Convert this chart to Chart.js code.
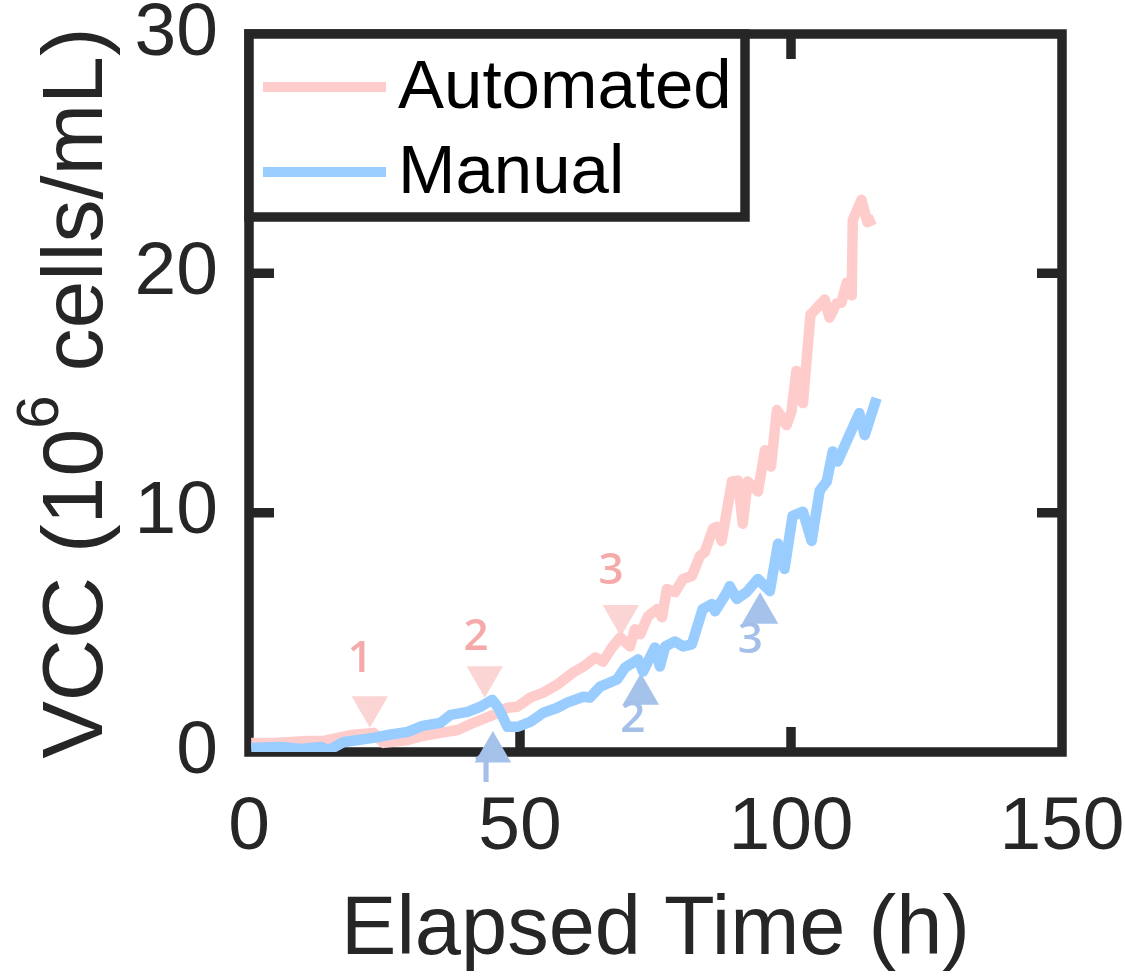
<!DOCTYPE html>
<html>
<head>
<meta charset="utf-8">
<script src="https://cdn.jsdelivr.net/npm/chart.js@4.4.0/dist/chart.umd.min.js"></script>
<style>
  html, body { margin: 0; padding: 0; background: #fff; }
  #wrap { width: 1125px; height: 976px; }
</style>
</head>
<body>
<div id="wrap"><canvas id="vccChart" width="1125" height="976"></canvas></div>
<script>
// VCC over elapsed time
const automatedTime = [0.4, 4.6, 10.9, 13.8, 18.8, 23.0, 24.8, 29.3, 32.0, 35.3, 38.5, 41.4, 45.1, 47.7, 49.5, 51.9, 54.3, 56.9, 59.8, 61.7, 63.9, 65.3, 67.0, 68.5, 70.3, 71.2, 72.2, 73.6, 75.3, 76.2, 77.1, 78.6, 80.1, 81.7, 83.2, 84.1, 85.6, 86.3, 87.2, 89.1, 90.2, 91.1, 92.0, 93.9, 95.2, 96.3, 97.4, 99.2, 100.1, 101.0, 102.2, 103.6, 104.0, 106.2, 107.1, 108.4, 109.3, 110.3, 111.2, 111.4, 113.0, 114.1, 115.4];
const automatedVcc = [0.38, 0.38, 0.46, 0.46, 0.71, 0.80, 0.38, 0.50, 0.67, 0.80, 0.92, 1.22, 1.55, 1.85, 1.89, 2.27, 2.48, 2.82, 3.32, 3.57, 3.95, 3.78, 4.37, 4.79, 4.41, 5.13, 4.92, 5.67, 5.97, 5.63, 6.81, 6.68, 7.23, 7.35, 8.19, 8.36, 9.33, 9.41, 8.82, 11.30, 11.34, 9.54, 11.30, 10.88, 12.61, 11.93, 14.29, 13.66, 14.24, 15.92, 14.58, 18.28, 18.36, 18.91, 18.15, 18.74, 18.78, 19.62, 19.08, 22.23, 23.07, 22.14, 22.27];

const manualTime = [0.4, 5.9, 9.6, 13.3, 14.7, 17.5, 23.0, 25.6, 29.3, 32.0, 35.3, 37.2, 40.3, 42.7, 44.9, 46.0, 47.7, 49.5, 51.9, 54.3, 56.9, 58.7, 61.7, 62.9, 64.8, 67.9, 69.4, 70.9, 71.8, 72.7, 74.9, 75.8, 76.8, 78.6, 80.1, 81.7, 83.7, 85.4, 86.0, 88.2, 88.7, 90.0, 91.8, 93.9, 96.1, 97.6, 98.8, 100.3, 102.2, 103.8, 105.3, 106.6, 107.7, 108.6, 112.6, 113.6, 115.8];
const manualVcc = [0.17, 0.21, 0.13, 0.21, 0.08, 0.42, 0.59, 0.71, 0.84, 1.09, 1.22, 1.55, 1.68, 1.89, 2.18, 1.85, 1.05, 1.05, 1.26, 1.64, 1.85, 2.06, 2.31, 2.27, 2.73, 3.03, 3.53, 3.74, 3.87, 3.36, 4.37, 3.57, 4.41, 4.62, 4.41, 4.50, 5.97, 6.18, 5.88, 6.68, 6.93, 6.39, 6.68, 7.23, 6.72, 8.70, 7.65, 9.87, 10.04, 8.82, 10.92, 11.30, 12.56, 12.14, 14.16, 13.24, 14.79];

// numbered event markers (triangles) and their numbers
const feedNumbers = ["1", "2", "3"];
const autoMarkTime = [22.3, 43.5, 68.6];
const autoMarkVcc = [1.89, 3.14, 5.70];
const autoNumTime = [20.5, 41.9, 66.8];
const autoNumVcc = [3.85, 4.78, 7.54];
const manualMarkTime = [45.0, 72.3, 94.3];
const manualMarkVcc = [0.0, 2.41, 5.80];
const manualNumTime = [43.4, 70.8, 92.5];
const manualNumVcc = [-0.75, 1.38, 4.65];

const xTicks = [0, 50, 100, 150];
const yTicks = [0, 10, 20, 30];

const autoColor = "#FFCCCC";
const manualColor = "#99CCFF";
const axisColor = "#262626";
const fontFamily = '"Liberation Sans", Arial, Helvetica, sans-serif';

function toPoints(xs, ys) {
  return xs.map((x, i) => ({ x: x, y: ys[i] }));
}

// box + inward ticks, drawn under the data
const framePlugin = {
  id: "frame",
  beforeDatasetsDraw(chart) {
    const { ctx, chartArea: a, scales } = chart;
    const tickLen = 25;
    ctx.save();
    ctx.strokeStyle = axisColor;
    ctx.lineWidth = 9.5;
    ctx.lineCap = "butt";
    ctx.strokeRect(a.left, a.top, a.right - a.left, a.bottom - a.top);
    ctx.beginPath();
    xTicks.slice(1, -1).forEach(v => {
      const px = scales.x.getPixelForValue(v);
      ctx.moveTo(px, a.bottom); ctx.lineTo(px, a.bottom - tickLen);
      ctx.moveTo(px, a.top); ctx.lineTo(px, a.top + tickLen);
    });
    yTicks.slice(1, -1).forEach(v => {
      const py = scales.y.getPixelForValue(v);
      ctx.moveTo(a.left, py); ctx.lineTo(a.left + tickLen, py);
      ctx.moveTo(a.right, py); ctx.lineTo(a.right - tickLen, py);
    });
    ctx.stroke();
    ctx.restore();
  }
};

// numbers next to the triangles
const numberPlugin = {
  id: "numbers",
  afterDatasetsDraw(chart) {
    const { ctx, scales } = chart;
    ctx.save();
    ctx.font = '600 44px "Open Sans", "Noto Sans", sans-serif';
    ctx.textAlign = "center";
    ctx.textBaseline = "middle";
    ctx.fillStyle = "#F5A9A9";
    feedNumbers.forEach((t, i) => {
      ctx.fillText(t, scales.x.getPixelForValue(autoNumTime[i]), scales.y.getPixelForValue(autoNumVcc[i]));
    });
    ctx.fillStyle = "#A4C0EA";
    feedNumbers.forEach((t, i) => {
      ctx.fillText(t, scales.x.getPixelForValue(manualNumTime[i]), scales.y.getPixelForValue(manualNumVcc[i]));
    });
    ctx.restore();
  }
};

// y title with superscript
const yTitlePlugin = {
  id: "yTitle",
  afterDraw(chart) {
    const { ctx, chartArea: a } = chart;
    const main1 = "VCC (10", sup = "6", main2 = " cells/mL)";
    const big = "86px " + fontFamily, small = "60px " + fontFamily;
    ctx.save();
    ctx.fillStyle = axisColor;
    ctx.font = big;
    const w1 = ctx.measureText(main1).width;
    const w3 = ctx.measureText(main2).width;
    ctx.font = small;
    const w2 = ctx.measureText(sup).width;
    const total = w1 + w2 + w3;
    ctx.translate(72, (a.top + a.bottom) / 2);
    ctx.rotate(-Math.PI / 2);
    ctx.textBaseline = "alphabetic";
    ctx.textAlign = "left";
    let x = -total / 2;
    ctx.font = big;
    ctx.fillText(main1, x, 30);
    x += w1;
    ctx.font = small;
    ctx.fillText(sup, x, -14);
    x += w2;
    ctx.font = big;
    ctx.fillText(main2, x, 30);
    ctx.restore();
  }
};

// boxed legend in the upper left corner of the axes
const legendPlugin = {
  id: "boxLegend",
  afterDraw(chart) {
    const { ctx, chartArea: a } = chart;
    const boxW = 496, boxH = 183;
    ctx.save();
    ctx.fillStyle = "#fff";
    ctx.fillRect(a.left, a.top, boxW, boxH);
    ctx.strokeStyle = axisColor;
    ctx.lineWidth = 9.5;
    ctx.strokeRect(a.left, a.top, boxW, boxH);
    const rows = [chart.data.datasets[0], chart.data.datasets[1]];
    rows.forEach((ds, i) => {
      const y = a.top + 53 + i * 85;
      ctx.strokeStyle = ds.borderColor;
      ctx.lineWidth = 10;
      ctx.beginPath();
      ctx.moveTo(a.left + 14, y);
      ctx.lineTo(a.left + 137, y);
      ctx.stroke();
      ctx.fillStyle = "#000";
      ctx.font = "69px " + fontFamily;
      ctx.textBaseline = "middle";
      ctx.textAlign = "left";
      ctx.fillText(ds.label, a.left + 149, y + 2);
    });
    ctx.restore();
  }
};

new Chart(document.getElementById("vccChart"), {
  type: "line",
  data: {
    datasets: [
      {
        label: "Automated",
        data: toPoints(automatedTime, automatedVcc),
        borderColor: autoColor,
        borderWidth: 10.5,
        borderJoinStyle: "round",
        pointRadius: 0,
        tension: 0,
        order: 2
      },
      {
        label: "Manual",
        data: toPoints(manualTime, manualVcc),
        borderColor: manualColor,
        borderWidth: 10.5,
        borderJoinStyle: "round",
        pointRadius: 0,
        tension: 0,
        order: 1
      },
      {
        label: "Automated events",
        type: "scatter",
        data: toPoints(autoMarkTime, autoMarkVcc),
        showLine: false,
        pointStyle: "triangle",
        pointRotation: 180,
        pointRadius: 21,
        pointBorderWidth: 0,
        pointBackgroundColor: "#FBD4D4",
        clip: false,
        order: 3
      },
      {
        label: "Manual events",
        type: "scatter",
        data: toPoints(manualMarkTime, manualMarkVcc),
        showLine: false,
        pointStyle: "triangle",
        pointRotation: 0,
        pointRadius: 21,
        pointBorderWidth: 0,
        pointBackgroundColor: "#A5C2EB",
        clip: false,
        order: 3
      }
    ]
  },
  options: {
    responsive: false,
    animation: false,
    devicePixelRatio: 1,
    layout: { padding: { left: 0, top: 34, right: 63, bottom: 0 } },
    plugins: {
      legend: { display: false },
      tooltip: { enabled: false }
    },
    scales: {
      x: {
        type: "linear",
        min: 0,
        max: 150,
        afterFit: s => { s.height = 224; s.paddingLeft = 0; s.paddingRight = 0; },
        afterBuildTicks: s => { s.ticks = xTicks.map(v => ({ value: v })); },
        grid: { display: false, drawTicks: false },
        border: { display: false },
        ticks: {
          color: axisColor,
          padding: 39,
          maxRotation: 0,
          font: { family: fontFamily, size: 75, lineHeight: 1 }
        },
        title: {
          display: true,
          text: "Elapsed Time (h)",
          color: axisColor,
          font: { family: fontFamily, size: 83, lineHeight: 1 },
          padding: { top: 0, bottom: 3 }
        }
      },
      y: {
        type: "linear",
        min: 0,
        max: 30,
        afterFit: s => { s.width = 249; s.paddingTop = 0; s.paddingBottom = 0; },
        afterBuildTicks: s => { s.ticks = yTicks.map(v => ({ value: v })); },
        grid: { display: false, drawTicks: false },
        border: { display: false },
        ticks: {
          color: axisColor,
          padding: 31,
          font: { family: fontFamily, size: 75, lineHeight: 1 }
        }
      }
    }
  },
  plugins: [framePlugin, numberPlugin, yTitlePlugin, legendPlugin]
});
</script>
</body>
</html>
